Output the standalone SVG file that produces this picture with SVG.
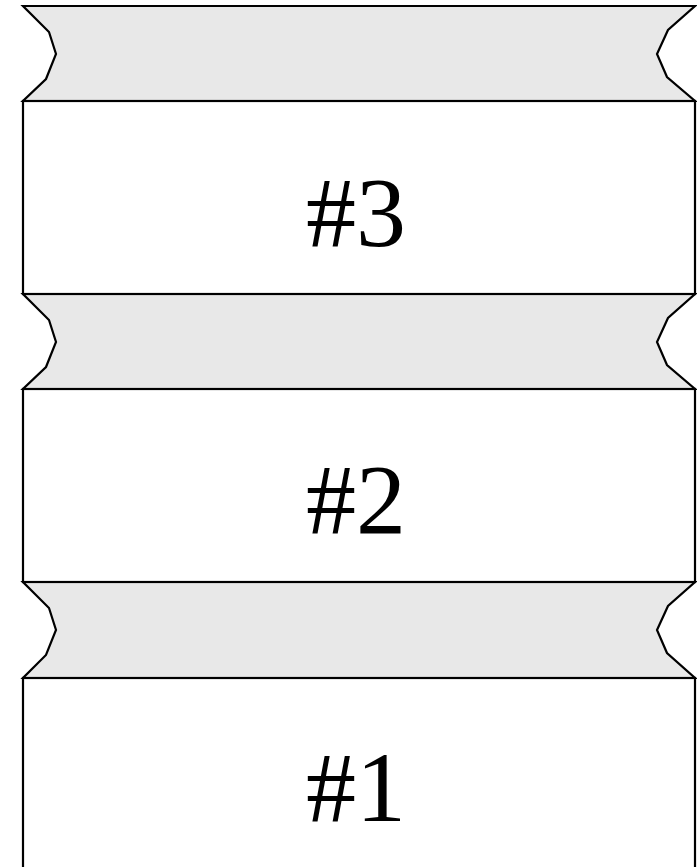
<svg xmlns="http://www.w3.org/2000/svg" width="697" height="867" viewBox="0 0 697 867">
<style>
.conn{fill:#e8e8e8;stroke:#000;stroke-width:2.2;stroke-linejoin:miter}
.box{fill:#fff;stroke:#000;stroke-width:2.2}
.lbl{font-family:"Liberation Serif","Times New Roman",serif;font-size:100px;fill:#000;text-anchor:middle}
</style>
<rect width="697" height="867" fill="#fff"/>
<g id="connectors">
<path class="conn" d="M23,6 L695,6 L668,30 L657,54 L667,77 L695,101 L23,101 L46,79 L56,54 L49,32 Z"/>
<path class="conn" d="M23,294 L695,294 L668,318 L657,342 L667,365 L695,389 L23,389 L46,367 L56,342 L49,320 Z"/>
<path class="conn" d="M23,582 L695,582 L668,606 L657,630 L667,653 L695,678 L23,678 L46,655 L56,630 L49,608 Z"/>
</g>
<g id="node3">
<rect class="box" x="23" y="101" width="672" height="193"/>
<text class="lbl" x="356" y="246">#3</text>
</g>
<g id="node2">
<rect class="box" x="23" y="389" width="672" height="193"/>
<text class="lbl" x="356" y="533">#2</text>
</g>
<g id="node1">
<rect class="box" x="23" y="678" width="672" height="200"/>
<text class="lbl" x="356" y="821">#1</text>
</g>
</svg>
